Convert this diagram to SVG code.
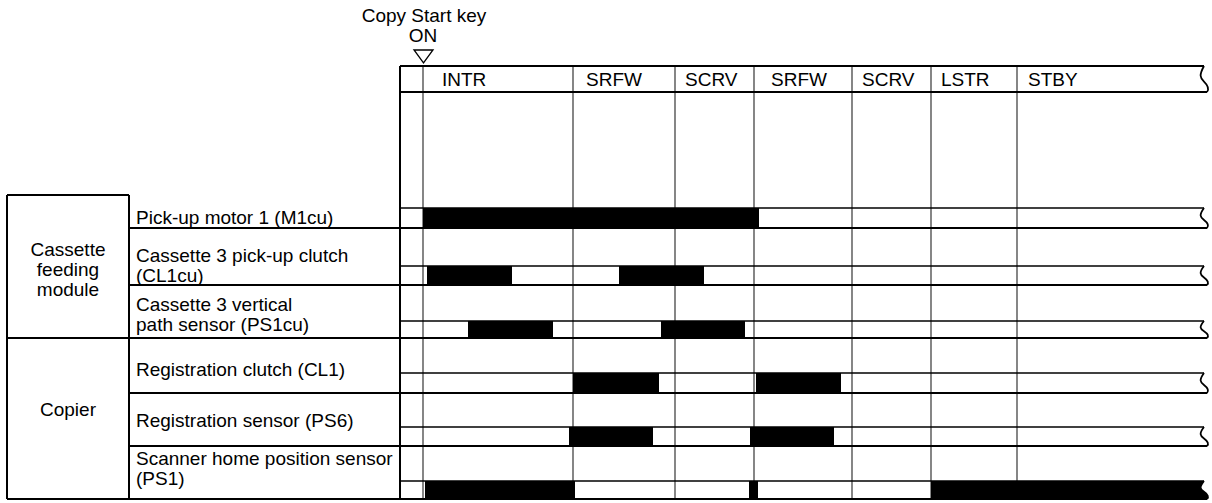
<svg xmlns="http://www.w3.org/2000/svg" width="1212" height="503" viewBox="0 0 1212 503">
<style>
text{font-family:"Liberation Sans",Arial,sans-serif;font-size:19px;fill:#000}
.thick{stroke:#000;stroke-width:2;fill:none}
.thin{stroke:#000;stroke-width:1.4;fill:none}
.grid{stroke:#444;stroke-width:1.3;fill:none}
.bar{fill:#000;stroke:none}
.sq{stroke:#000;stroke-width:1.8;fill:none}
.mid{text-anchor:middle}
</style>
<rect width="1212" height="503" fill="#fff"/>
<g id="start-key">
<text x="424" y="22" class="mid">Copy Start key</text>
<text x="423" y="42" class="mid">ON</text>
<polygon points="414,50 433,50 423.5,63" fill="none" stroke="#000" stroke-width="1.3"/>
</g>
<g id="grid">
<line class="grid" x1="423" y1="66" x2="423" y2="499"/>
<line class="grid" x1="573" y1="66" x2="573" y2="499"/>
<line class="grid" x1="675" y1="66" x2="675" y2="499"/>
<line class="grid" x1="754" y1="66" x2="754" y2="499"/>
<line class="grid" x1="852" y1="66" x2="852" y2="499"/>
<line class="grid" x1="931" y1="66" x2="931" y2="499"/>
<line class="grid" x1="1017" y1="66" x2="1017" y2="499"/>
</g>
<g id="bars">
<rect class="bar" x="423" y="208" width="336" height="20"/>
<rect class="bar" x="427" y="266" width="85" height="19"/>
<rect class="bar" x="619" y="266" width="85" height="19"/>
<rect class="bar" x="468" y="321" width="85" height="17"/>
<rect class="bar" x="661" y="321" width="84" height="17"/>
<rect class="bar" x="573" y="373" width="86" height="20"/>
<rect class="bar" x="756" y="373" width="85" height="20"/>
<rect class="bar" x="569" y="427" width="84" height="19"/>
<rect class="bar" x="750" y="427" width="84" height="19"/>
<rect class="bar" x="425" y="481" width="150" height="18"/>
<rect class="bar" x="749" y="481" width="9" height="18"/>
<path class="bar" d="M931,481 H1204 C1199,487.3 1200,489.1 1204,491.8 C1208,494.5 1209,497.2 1207,499 H931 Z"/>
</g>
<g id="connectors">
<line class="thick" x1="400" y1="66" x2="400" y2="499"/>
<line class="thick" x1="400" y1="66" x2="1204" y2="66"/>
<line class="thick" x1="400" y1="92" x2="1207" y2="92"/>
<path class="sq" d="M1204,66 C1199,75.1 1200,77.7 1204,81.6 C1208,85.5 1209,89.4 1207,92"/>
<line class="thin" x1="400" y1="208" x2="1204" y2="208"/>
<line class="thick" x1="129" y1="228" x2="1207" y2="228"/>
<path class="sq" d="M1204,208 C1199,215 1200,217 1204,220 C1208,223 1209,226 1207,228"/>
<line class="thin" x1="400" y1="266" x2="1204" y2="266"/>
<line class="thick" x1="129" y1="285" x2="1207" y2="285"/>
<path class="sq" d="M1204,266 C1199,272.6 1200,274.5 1204,277.4 C1208,280.3 1209,283.1 1207,285"/>
<line class="thin" x1="400" y1="321" x2="1204" y2="321"/>
<line class="thick" x1="7" y1="338" x2="1207" y2="338"/>
<path class="sq" d="M1204,321 C1199,327 1200,328.7 1204,331.2 C1208,333.8 1209,336.3 1207,338"/>
<line class="thin" x1="400" y1="373" x2="1204" y2="373"/>
<line class="thick" x1="129" y1="393" x2="1207" y2="393"/>
<path class="sq" d="M1204,373 C1199,380 1200,382 1204,385 C1208,388 1209,391 1207,393"/>
<line class="thin" x1="400" y1="427" x2="1204" y2="427"/>
<line class="thick" x1="129" y1="446" x2="1207" y2="446"/>
<path class="sq" d="M1204,427 C1199,433.6 1200,435.5 1204,438.4 C1208,441.3 1209,444.1 1207,446"/>
<line class="thin" x1="400" y1="481" x2="1204" y2="481"/>
<line class="thick" x1="7" y1="499" x2="1207" y2="499"/>
<path class="sq" d="M1204,481 C1199,487.3 1200,489.1 1204,491.8 C1208,494.5 1209,497.2 1207,499"/>
<line class="thick" x1="7" y1="195" x2="129" y2="195"/>
<line class="thick" x1="7" y1="195" x2="7" y2="499"/>
<line class="thick" x1="129" y1="195" x2="129" y2="499"/>
</g>
<g id="header-labels">
<text x="442" y="86">INTR</text>
<text x="586" y="86">SRFW</text>
<text x="685" y="86">SCRV</text>
<text x="771" y="86">SRFW</text>
<text x="862" y="86">SCRV</text>
<text x="941" y="86">LSTR</text>
<text x="1028" y="86">STBY</text>
</g>
<g id="module-cassette">
<text x="68" y="256" class="mid">Cassette</text>
<text x="68" y="276" class="mid">feeding</text>
<text x="68" y="296" class="mid">module</text>
</g>
<g id="module-copier">
<text x="68" y="416" class="mid">Copier</text>
</g>
<g id="row-m1cu"><text x="136" y="224">Pick-up motor 1 (M1cu)</text></g>
<g id="row-cl1cu"><text x="136" y="262">Cassette 3 pick-up clutch</text><text x="136" y="282">(CL1cu)</text></g>
<g id="row-ps1cu"><text x="136" y="311">Cassette 3 vertical</text><text x="136" y="331">path sensor (PS1cu)</text></g>
<g id="row-cl1"><text x="136" y="376">Registration clutch (CL1)</text></g>
<g id="row-ps6"><text x="136" y="427">Registration sensor (PS6)</text></g>
<g id="row-ps1"><text x="136" y="465">Scanner home position sensor</text><text x="136" y="485">(PS1)</text></g>
</svg>
